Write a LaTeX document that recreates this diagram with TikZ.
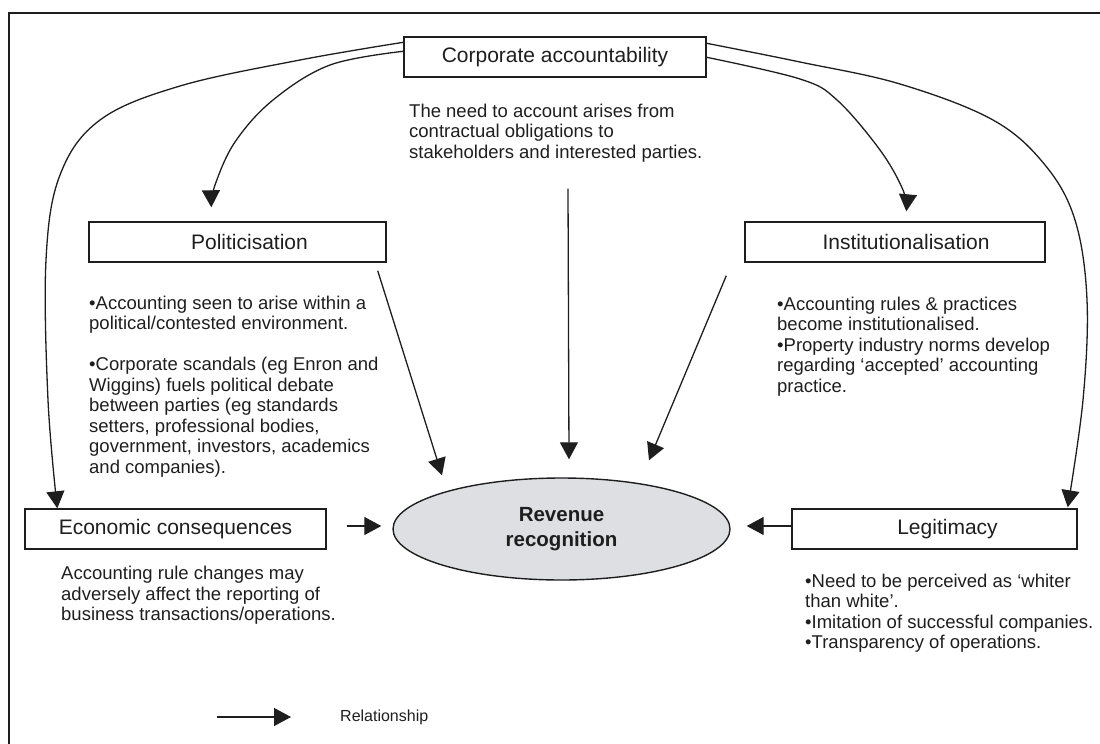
\documentclass[tikz,border=0pt]{standalone}
\usepackage{fontspec}
\setmainfont{Liberation Sans}
\usetikzlibrary{arrows.meta,shapes.geometric}
\definecolor{ink}{RGB}{30,30,30}
\definecolor{ellfill}{RGB}{221,223,227}
\begin{document}
\begin{tikzpicture}[x=1pt,y=-1pt,
  box/.style={draw=ink, line width=1.4pt, minimum height=40pt, inner sep=0pt,
    font=\fontsize{21}{25}\selectfont, text=ink},
  desc/.style={anchor=north west, inner sep=0pt, align=left,
    font=\fontsize{18.5}{20.5}\selectfont, text=ink},
  conn/.style={draw=ink, line width=1.3pt, -{Triangle[length=17pt,width=18pt]}},
  frame/.style={draw=ink, line width=2pt}]
\useasboundingbox (0,0) rectangle (1100,744);
\draw[frame] (9,744) -- (9,13) -- (1100,13);

% boxes
\node[box, minimum width=302pt] (corp) at (555,57) {Corporate accountability};
\node[box, minimum width=297pt] (poli) at (237.5,242) {\hspace*{24pt}Politicisation};
\node[box, minimum width=300pt] (inst) at (895,242) {\hspace*{22pt}Institutionalisation};
\node[box, minimum width=301pt] (econ) at (175.5,529) {Economic consequences};
\node[box, minimum width=285pt] (legit) at (934.5,529) {\hspace*{26pt}Legitimacy};
\node[draw=ink, line width=1.4pt, fill=ellfill, ellipse, minimum width=337pt, minimum height=102pt,
  inner sep=0pt, align=center, text=ink, font=\fontsize{20.5}{25}\bfseries] (rev) at (561.5,529)
  {Revenue\\recognition};

% descriptions
\node[desc] (corpdesc) at (409,103.5) {The need to account arises from\\contractual obligations to\\stakeholders and interested parties.};
\node[desc] (polidesc) at (89,295.5) {•Accounting seen to arise within a\\political/contested environment.\\[20.5pt]•Corporate scandals (eg Enron and\\Wiggins) fuels political debate\\between parties (eg standards\\setters, professional bodies,\\government, investors, academics\\and companies).};
\node[desc] (instdesc) at (777,296.5) {•Accounting rules \& practices\\become institutionalised.\\•Property industry norms develop\\regarding ‘accepted’ accounting\\practice.};
\node[desc] (econdesc) at (61,566) {Accounting rule changes may\\adversely affect the reporting of\\business transactions/operations.};
\node[desc] (legdesc) at (805,573.5) {•Need to be perceived as ‘whiter\\than white’.\\•Imitation of successful companies.\\•Transparency of operations.};

% curved connectors
\draw[conn] plot[smooth, tension=0.6] coordinates {([yshift=-6pt]corp.north west) (300,60) (180,86) (100,120) (60,175) (46,260) (48,400) ([xshift=33pt]econ.north west)};
\draw[conn] plot[smooth, tension=0.6] coordinates {([yshift=-15pt]corp.north west) (330,65) (273,100) (235,142) (215,185) ([xshift=123pt,yshift=14pt]poli.north west)};
\draw[conn] plot[smooth, tension=0.6] coordinates {([yshift=-21pt]corp.north east) (800,79) (837,100) (880,150) (903,190) ([xshift=162pt,yshift=10pt]inst.north west)};
\draw[conn] plot[smooth, tension=0.6] coordinates {([yshift=-7pt]corp.north east) (800,62) (900,84) (993,120) (1045,165) (1075,220) (1087,300) (1083,400) ([xshift=-10pt,yshift=1pt]legit.north east)};

% straight connectors
\draw[conn] ([xshift=13pt,yshift=-111pt]corp.south) -- ([xshift=7.5pt,yshift=18pt]rev.north);
\draw[conn] ([xshift=-9pt,yshift=-8pt]poli.south east) -- ([xshift=-119.5pt,yshift=2pt]rev.north);
\draw[conn] ([xshift=-18pt,yshift=-13pt]inst.south west) -- ([xshift=87.5pt,yshift=17pt]rev.north);
\draw[conn] ([xshift=20pt,yshift=3pt]econ.east) -- ([xshift=-11pt,yshift=3pt]rev.west);
\draw[conn] ([yshift=3pt]legit.west) -- ([xshift=16pt,yshift=3pt]rev.east);

% legend
\node[anchor=west, inner sep=0pt, font=\fontsize{16}{19}\selectfont, text=ink] (rel) at (340,717) {Relationship};
\draw[conn] ([xshift=-123pt]rel.west) -- ([xshift=-49pt]rel.west);
\end{tikzpicture}
\end{document}
